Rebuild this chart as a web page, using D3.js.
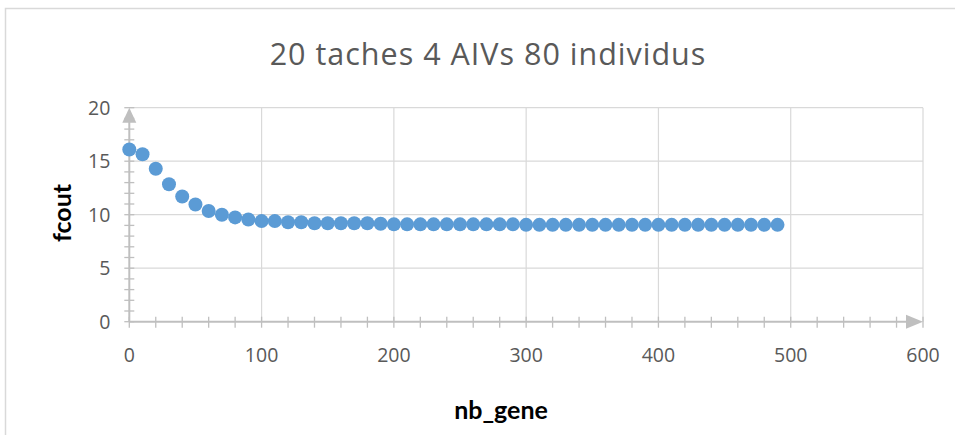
<!DOCTYPE html>
<html>
<head>
<meta charset="utf-8">
<script src="https://cdn.jsdelivr.net/npm/d3@7"></script>
<style>
html,body{margin:0;padding:0;background:#fff;}
svg{display:block;}
</style>
</head>
<body>
<svg id="chart" width="955" height="435"></svg>
<script>
const title = "20 taches 4 AIVs 80 individus";
const xLabel = "nb_gene";
const yLabel = "fcout";
const nbGene = [0,10,20,30,40,50,60,70,80,90,100,110,120,130,140,150,160,170,180,190,200,210,220,230,240,250,260,270,280,290,300,310,320,330,340,350,360,370,380,390,400,410,420,430,440,450,460,470,480,490];
const fcout = [16.1,15.65,14.3,12.85,11.7,10.95,10.35,10.0,9.75,9.55,9.4,9.4,9.3,9.3,9.2,9.2,9.2,9.2,9.2,9.15,9.1,9.1,9.1,9.1,9.1,9.1,9.1,9.1,9.1,9.1,9.05,9.05,9.05,9.05,9.05,9.05,9.05,9.05,9.05,9.05,9.05,9.05,9.05,9.05,9.05,9.05,9.05,9.05,9.05,9.05];
const xTicks = [0,100,200,300,400,500,600];
const yTicks = [0,5,10,15,20];

const svg = d3.select("#chart");
const font = "'Open Sans', sans-serif";
const boldFont = "Lato, 'Open Sans', sans-serif";

// chart frame
svg.append("rect").attr("x",5.5).attr("y",8.5).attr("width",1100).attr("height",1000)
  .attr("fill","#fff").attr("stroke","#d9d9d9").attr("stroke-width",1.5);

const x = d3.scaleLinear().domain([0,600]).range([129.3,923]);
const y = d3.scaleLinear().domain([0,20]).range([321.7,107.7]);

// gridlines
svg.append("g").selectAll("line.h").data(yTicks.filter(d=>d>0)).join("line")
  .attr("x1",x(0)).attr("x2",x(600)).attr("y1",d=>y(d)).attr("y2",d=>y(d))
  .attr("stroke","#d9d9d9").attr("stroke-width",1.2);
svg.append("g").selectAll("line.v").data(xTicks.filter(d=>d>0)).join("line")
  .attr("y1",y(0)).attr("y2",y(20)).attr("x1",d=>x(d)).attr("x2",d=>x(d))
  .attr("stroke","#d9d9d9").attr("stroke-width",1.2);

const axisCol = "#bfbfbf";
// minor ticks
svg.append("g").selectAll("line").data(d3.range(0,601,20)).join("line")
  .attr("x1",d=>x(d)).attr("x2",d=>x(d)).attr("y1",y(0)-5).attr("y2",y(0)+6)
  .attr("stroke",axisCol).attr("stroke-width",1.3);
svg.append("g").selectAll("line").data(d3.range(0,21,1)).join("line")
  .attr("y1",d=>y(d)).attr("y2",d=>y(d)).attr("x1",x(0)-5).attr("x2",x(0)+5)
  .attr("stroke",axisCol).attr("stroke-width",1.3);

// axis lines
svg.append("line").attr("x1",x(0)).attr("x2",x(600)-10).attr("y1",y(0)).attr("y2",y(0))
  .attr("stroke",axisCol).attr("stroke-width",2);
svg.append("line").attr("x1",x(0)).attr("x2",x(0)).attr("y1",y(0)).attr("y2",y(20)+10)
  .attr("stroke",axisCol).attr("stroke-width",2);
// arrows
svg.append("path").attr("d",`M${x(600)},${y(0)} L${x(600)-17},${y(0)-7} L${x(600)-17},${y(0)+7}Z`).attr("fill",axisCol);
svg.append("path").attr("d",`M${x(0)},${y(20)} L${x(0)-7},${y(20)+15} L${x(0)+7},${y(20)+15}Z`).attr("fill",axisCol);

// tick labels
svg.append("g").selectAll("text").data(xTicks).join("text")
  .attr("x",d=>x(d)).attr("y",y(0)+40).attr("text-anchor","middle")
  .attr("font-family",font).attr("font-size",19.5).attr("fill","#595959").text(d=>d);
svg.append("g").selectAll("text").data(yTicks).join("text")
  .attr("x",x(0)-19).attr("y",d=>y(d)+7).attr("text-anchor","end")
  .attr("font-family",font).attr("font-size",19.5).attr("fill","#595959").text(d=>d);

// points
svg.append("g").selectAll("circle").data(nbGene.map((g,i)=>[g,fcout[i]])).join("circle")
  .attr("cx",d=>x(d[0])).attr("cy",d=>y(d[1])).attr("r",7)
  .attr("fill","#5b9bd5");

// titles
svg.append("text").attr("x",488).attr("y",65).attr("text-anchor","middle")
  .attr("font-family",font).attr("font-size",30.5).attr("letter-spacing",1).attr("fill","#595959").text(title);
svg.append("text").attr("x",501).attr("y",419).attr("text-anchor","middle")
  .attr("font-family",boldFont).attr("font-weight","bold").attr("font-size",25).attr("fill","#000").text(xLabel);
svg.append("text").attr("transform","translate(71,213) rotate(-90)").attr("text-anchor","middle")
  .attr("font-family",boldFont).attr("font-weight","bold").attr("font-size",25).attr("fill","#000").text(yLabel);
</script>
</body>
</html>
